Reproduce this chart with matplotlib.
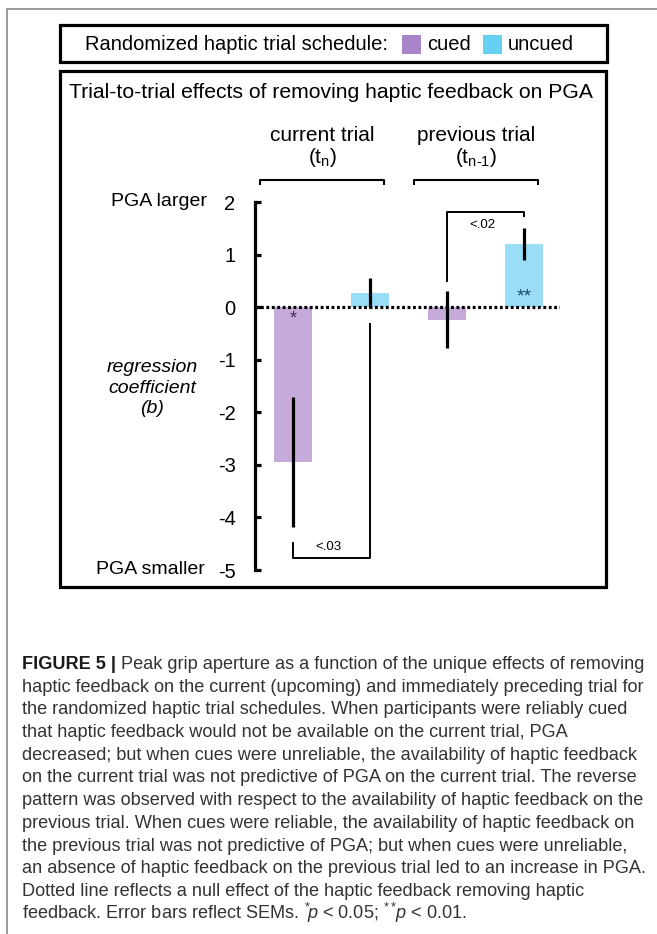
import numpy as np
import matplotlib
matplotlib.use('Agg')
import matplotlib.pyplot as plt
from matplotlib.patches import Rectangle
from matplotlib.lines import Line2D
from matplotlib.transforms import blended_transform_factory

plt.rcParams['font.family'] = ['Liberation Sans', 'DejaVu Sans']
plt.rcParams['axes.unicode_minus'] = False
plt.rcParams['mathtext.fontset'] = 'custom'
plt.rcParams['mathtext.rm'] = 'Liberation Sans'
plt.rcParams['mathtext.it'] = 'Liberation Sans:italic'
plt.rcParams['mathtext.bf'] = 'Liberation Sans:bold'

# data
groups = ['current trial', 'previous trial']
group_sub = [r'(t$_\mathregular{n}$)', r'(t$_{\text{n-1}}$)']
cued_vals = [-2.95, -0.24]
cued_sem = [1.24, 0.54]
uncued_vals = [0.27, 1.20]
uncued_sem = [0.28, 0.31]
cued_stars = ['*', '']
uncued_stars = ['', '**']
sig_labels = ['<.03', '<.02']
yticks = [2, 1, 0, -1, -2, -3, -4, -5]

legend_title = 'Randomized haptic trial schedule:'
conditions = ['cued', 'uncued']
title = 'Trial-to-trial effects of removing haptic feedback on PGA'

caption_head = 'FIGURE 5 |'
caption = [
    'Peak grip aperture as a function of the unique effects of removing',
    'haptic feedback on the current (upcoming) and immediately preceding trial for',
    'the randomized haptic trial schedules. When participants were reliably cued',
    'that haptic feedback would not be available on the current trial, PGA',
    'decreased; but when cues were unreliable, the availability of haptic feedback',
    'on the current trial was not predictive of PGA on the current trial. The reverse',
    'pattern was observed with respect to the availability of haptic feedback on the',
    'previous trial. When cues were reliable, the availability of haptic feedback on',
    'the previous trial was not predictive of PGA; but when cues were unreliable,',
    'an absence of haptic feedback on the previous trial led to an increase in PGA.',
    'Dotted line reflects a null effect of the haptic feedback removing haptic',
    r'feedback. Error bars reflect SEMs. ${}^{*}\!p$ < 0.05; ${}^{**}\!p$ < 0.01.',
]

c_cued = '#C6AAD9'
c_uncued = '#9ADDF7'
c_cued_leg = '#A884C8'
c_uncued_leg = '#66CFF4'

W, H = 657, 934
fig = plt.figure(figsize=(W / 100, H / 100), dpi=100)


def fx(x):
    return x / W


def fy(y):
    return 1 - y / H


# outer gray frame
fig.add_artist(Line2D([fx(7), fx(7), 1], [0, fy(9), fy(9)], color='#8a8a8a', lw=1.2))

# legend box
fig.add_artist(Rectangle((fx(60), fy(62)), fx(607) - fx(60), fy(25) - fy(62),
                         transform=fig.transFigure, fill=False, ec='black', lw=2.3))
fig.text(fx(85), fy(44), legend_title, fontsize=14.5, va='center')
leg_cols = [c_cued_leg, c_uncued_leg]
leg_x = [(402, 427), (483, 508)]
for (px, tx), col, lab in zip(leg_x, leg_cols, conditions):
    fig.add_artist(Rectangle((fx(px), fy(54)), fx(19), fy(35) - fy(54),
                             transform=fig.transFigure, fc=col, ec='none'))
    fig.text(fx(tx), fy(44), lab, fontsize=14.5, va='center')

# chart box
fig.add_artist(Rectangle((fx(60), fy(587)), fx(606) - fx(60), fy(71) - fy(587),
                         transform=fig.transFigure, fill=False, ec='black', lw=2.3))
fig.text(fx(331), fy(92), title, fontsize=15.2, ha='center', va='center')

ax = fig.add_axes([fx(255), fy(570), fx(560) - fx(255), fy(202) - fy(570)])
ax.set_xlim(-0.494, 3.468)
ax.set_ylim(-5, 2)

x_cued = np.arange(len(groups)) * 2
x_unc = x_cued + 1
bw = 0.49
ax.bar(x_cued, cued_vals, width=bw, color=c_cued, zorder=2)
ax.bar(x_unc, uncued_vals, width=bw, color=c_uncued, zorder=2)
ax.errorbar(x_cued, cued_vals, yerr=cued_sem, fmt='none', ecolor='black',
            elinewidth=2.3, capsize=0, zorder=3)
ax.errorbar(x_unc, uncued_vals, yerr=uncued_sem, fmt='none', ecolor='black',
            elinewidth=2.3, capsize=0, zorder=3)
ax.axhline(0, color='black', lw=2.3, ls=(0, (0.9, 0.8)), dash_capstyle='butt', zorder=4)

for x, s in zip(x_cued, cued_stars):
    if s:
        ax.text(x, -0.22, s, color='#4A2D63', fontsize=13, ha='center', va='center', zorder=5)
for x, s in zip(x_unc, uncued_stars):
    if s:
        ax.text(x, 0.2, s, color='#1B4F66', fontsize=14, ha='center', va='center', zorder=5)

# group brackets and labels
for g, (lab, sub) in enumerate(zip(groups, group_sub)):
    x0, x1 = x_cued[g] - 0.43, x_unc[g] + 0.185
    ax.plot([x0, x0, x1, x1], [2.32, 2.42, 2.42, 2.32], color='black', lw=1.5,
            clip_on=False, solid_capstyle='butt')
    xc = x_cued[g] + 0.38
    ax.text(xc, 3.27, lab, fontsize=15, ha='center', va='center', clip_on=False)
    ax.text(xc, 2.84, sub, fontsize=15, ha='center', va='center', clip_on=False)

# significance brackets
sig_y = [(-4.49, -4.77, -0.33), (0.5, 1.81, 1.73)]
sig_txt_y = [-4.56, 1.56]
for g, (lab, (ya, yb, yc)) in enumerate(zip(sig_labels, sig_y)):
    xa, xb = x_cued[g], x_unc[g]
    ax.plot([xa, xa, xb, xb], [ya, yb, yb, yc], color='black', lw=1.4, clip_on=False)
    ax.text((xa + xb) / 2 - 0.04, sig_txt_y[g], lab, fontsize=9.5, ha='center', va='center')

for sp in ['top', 'right', 'bottom']:
    ax.spines[sp].set_visible(False)
ax.spines['left'].set_linewidth(2.3)
ax.set_xticks([])
ax.set_yticks(yticks)
ax.set_yticklabels([str(t) for t in yticks])
ax.tick_params(axis='y', direction='in', length=4, width=2.3, labelsize=14.5, pad=14)
ax.patch.set_alpha(0)

tr = blended_transform_factory(fig.transFigure, ax.transData)
ax.text(fx(207), 2, 'PGA larger', transform=tr, fontsize=14, ha='right', va='center')
ax.text(fx(205), -5, 'PGA smaller', transform=tr, fontsize=14, ha='right', va='center')
ax.text(fx(152), -1.54, 'regression\ncoefficient\n(b)', transform=tr, fontsize=14,
        style='italic', ha='center', va='center', linespacing=1.25)

# caption
cap_col = '#333333'
fs = 13.1
base0 = 669
step = 22.7
head = fig.text(fx(22), fy(base0), caption_head, fontsize=fs, weight='bold',
                color='#1a1a1a', va='baseline')
r = fig.canvas.get_renderer()
bb = head.get_window_extent(r)
fig.text((bb.x1 + 5) / W, fy(base0), caption[0], fontsize=fs, color=cap_col, va='baseline')
for i, line in enumerate(caption[1:], start=1):
    fig.text(fx(22), fy(base0 + step * i), line, fontsize=fs, color=cap_col, va='baseline')

fig.savefig('out.png', dpi=100)
